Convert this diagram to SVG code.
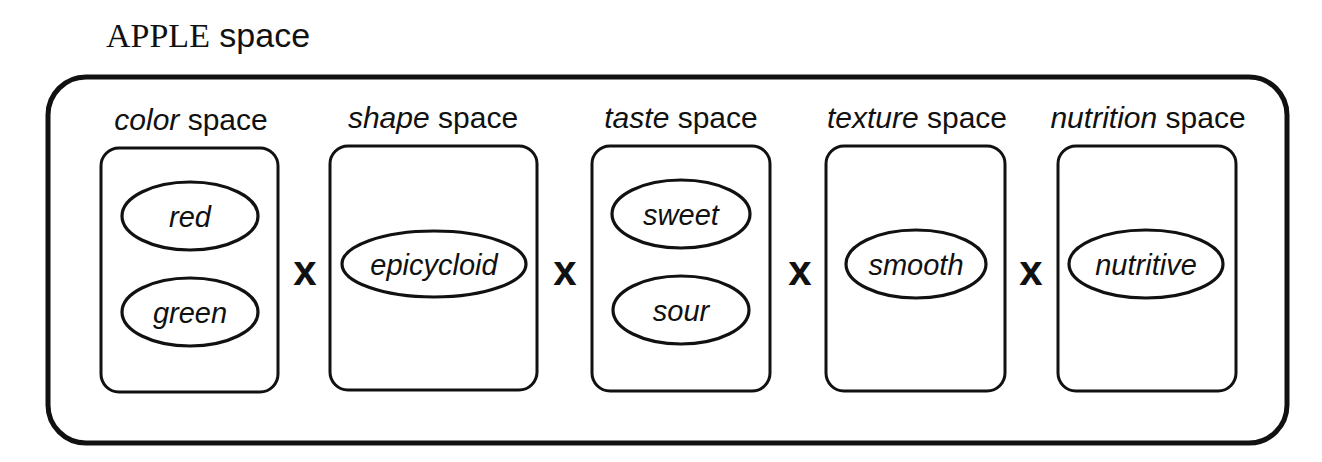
<svg xmlns="http://www.w3.org/2000/svg" width="1322" height="462" viewBox="0 0 1322 462">
<style>
.box{fill:none;stroke:#111;stroke-width:3}
.outer{fill:none;stroke:#111;stroke-width:5}
.ell{fill:none;stroke:#111;stroke-width:3.2}
.lbl{font-family:"Liberation Sans",Arial,sans-serif;font-size:30px;fill:#111;text-anchor:middle}
.it{font-style:italic}
.val{font-family:"Liberation Sans",Arial,sans-serif;font-size:29px;font-style:italic;fill:#111;text-anchor:middle}
.x{font-family:"Liberation Sans",Arial,sans-serif;font-size:42px;font-weight:bold;fill:#111;text-anchor:middle}
</style>
<rect width="1322" height="462" fill="#fff"/>
<g id="apple">
<text x="106" y="47" fill="#111"><tspan font-family="Liberation Serif,'Times New Roman',serif" font-size="34">APPLE</tspan><tspan font-family="Liberation Sans,Arial,sans-serif" font-size="34"> space</tspan></text>
<rect class="outer" x="48" y="77" width="1239" height="366" rx="38"/>
</g>
<g id="color">
<text class="lbl" x="191" y="130"><tspan class="it">color</tspan> space</text>
<rect class="box" x="101" y="148" width="177" height="244" rx="18"/>
<g id="red"><ellipse class="ell" cx="190" cy="216" rx="68" ry="34"/><text class="val" x="190" y="227">red</text></g>
<g id="green"><ellipse class="ell" cx="190" cy="312" rx="68" ry="34"/><text class="val" x="190" y="323">green</text></g>
</g>
<g id="shape">
<text class="lbl" x="433" y="128"><tspan class="it">shape</tspan> space</text>
<rect class="box" x="330" y="146" width="207" height="244" rx="18"/>
<g id="epicycloid"><ellipse class="ell" cx="434" cy="264" rx="92" ry="33"/><text class="val" x="434" y="275">epicycloid</text></g>
</g>
<g id="taste">
<text class="lbl" x="681" y="128"><tspan class="it">taste</tspan> space</text>
<rect class="box" x="592" y="146" width="178" height="245" rx="18"/>
<g id="sweet"><ellipse class="ell" cx="681" cy="214" rx="69" ry="34"/><text class="val" x="681" y="225">sweet</text></g>
<g id="sour"><ellipse class="ell" cx="681" cy="310" rx="68" ry="34"/><text class="val" x="681" y="321">sour</text></g>
</g>
<g id="texture">
<text class="lbl" x="917" y="128"><tspan class="it">texture</tspan> space</text>
<rect class="box" x="826" y="146" width="179" height="245" rx="18"/>
<g id="smooth"><ellipse class="ell" cx="916" cy="264" rx="70" ry="34"/><text class="val" x="916" y="275">smooth</text></g>
</g>
<g id="nutrition">
<text class="lbl" x="1148" y="128"><tspan class="it">nutrition</tspan> space</text>
<rect class="box" x="1058" y="146" width="178" height="245" rx="18"/>
<g id="nutritive"><ellipse class="ell" cx="1146" cy="264" rx="77" ry="34"/><text class="val" x="1146" y="275">nutritive</text></g>
</g>
<g id="connectors">
<text class="x" x="305" y="285">x</text>
<text class="x" x="565" y="285">x</text>
<text class="x" x="800" y="285">x</text>
<text class="x" x="1031" y="285">x</text>
</g>
</svg>
